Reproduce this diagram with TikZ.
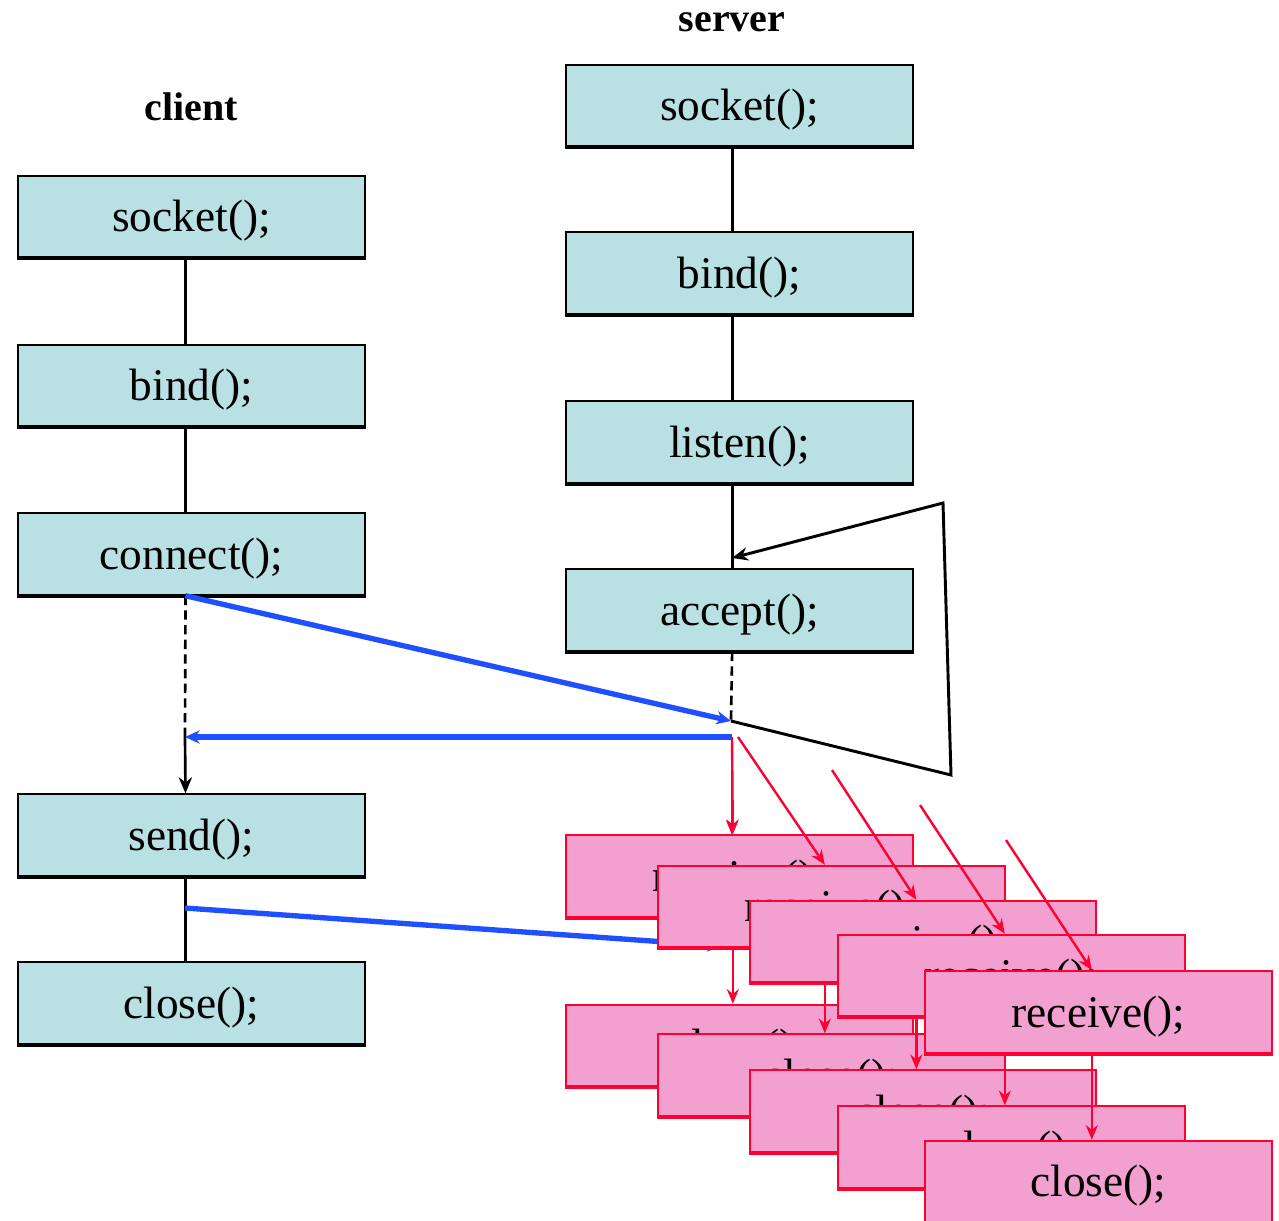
\documentclass[tikz,border=0pt]{standalone}
\usepackage{fontspec}
\setmainfont{Liberation Serif}
\usetikzlibrary{arrows.meta}

\definecolor{callfill}{RGB}{185,224,227}
\definecolor{childfill}{RGB}{242,160,208}
\definecolor{childline}{RGB}{255,0,51}
\definecolor{msgblue}{RGB}{30,80,255}

\begin{document}
\begin{tikzpicture}[x=0.75pt,y=0.75pt,yscale=-1,xscale=1,
    box/.style={line width=1.6pt, minimum width=260pt, minimum height=61pt, inner sep=0pt,
        text height=26pt, text depth=3pt, font=\fontsize{34}{40}\selectfont},
    call/.style={box, draw=black, fill=callfill,
        append after command={(\tikzlastnode.south west) edge [line width=3pt, draw=black] (\tikzlastnode.south east)}},
    child/.style={box, draw=childline, fill=childfill,
        append after command={(\tikzlastnode.south west) edge [line width=3pt, draw=childline] (\tikzlastnode.south east)}},
    title/.style={font=\bfseries\fontsize{30}{36}\selectfont},
    flow/.style={line width=2pt},
    msg/.style={draw=msgblue, line width=4pt, -{Stealth[length=11pt,width=10pt]}},
    fork/.style={draw=childline, line width=1.8pt, -{Stealth[length=11pt,width=9pt]}}]

    \useasboundingbox (0,0) rectangle (1279,1221);

    % Titles
    \draw (191,107) node [title] (client) {client};
    \draw (732,22) node [title] (server) {server};

    % Client side
    \draw (191.5,216.5) node [call] (csocket) {socket();};
    \draw (191.5,385.5) node [call] (cbind) {bind();};
    \draw (191.5,554) node [call] (cconnect) {connect();};
    \draw (191.5,835) node [call] (csend) {send();};
    \draw (191.5,1003) node [call] (cclose) {close();};

    % Server side
    \draw (739.5,105.5) node [call] (ssocket) {socket();};
    \draw (739.5,273) node [call] (sbind) {bind();};
    \draw (739.5,442) node [call] (slisten) {listen();};
    \draw (739.5,610) node [call] (saccept) {accept();};

    % Points on the lines
    \coordinate (cwait) at (185,737);
    \coordinate (csendpt) at (185,908);
    \coordinate (ajoin) at (731,721);
    \coordinate (afork) at (732,737);
    \coordinate (aloop) at (732,558);
    \coordinate (rin) at (722,946);

    % Client flow
    \draw [flow] ([xshift=-4.5pt]csocket.south) -- ([xshift=-4.5pt]cbind.north);
    \draw [flow] ([xshift=-4.5pt]cbind.south) -- ([xshift=-4.5pt]cconnect.north);
    \draw [flow, dash pattern=on 7pt off 4pt] ([xshift=-4.5pt]cconnect.south) -- (cwait);
    \draw [flow, -{Stealth[length=12pt,width=10pt]}] (cwait) -- ([xshift=-4.5pt]csend.north);
    \draw [flow] ([xshift=-4.5pt]csend.south) -- ([xshift=-4.5pt]cclose.north);

    % Server flow
    \draw [flow] ([xshift=-5.5pt]ssocket.south) -- ([xshift=-5.5pt]sbind.north);
    \draw [flow] ([xshift=-5.5pt]sbind.south) -- ([xshift=-5.5pt]slisten.north);
    \draw [flow] ([xshift=-5.5pt]slisten.south) -- ([xshift=-5.5pt]saccept.north);
    \draw [flow, dash pattern=on 7pt off 4pt] ([xshift=-5.5pt]saccept.south) -- (ajoin);
    \draw [line width=2.2pt, -{Stealth[length=12pt,width=10pt]}] (ajoin) -- (951,775) -- (943,503) -- (aloop);

    % Messages
    \draw [fork] (afork) -- (732,835);
    \draw [msg] ([xshift=-4.5pt]cconnect.south) -- (ajoin);
    \draw [msg] (afork) -- (cwait);
    \draw [msg] (csendpt) -- (rin);

    % Child processes
    \foreach \i/\x/\ry/\cy/\fx/\fy in {1/739.5/876/1045.5/732/737, 2/831.5/906.5/1075/738/737, 3/923/941.5/1111/832/770, 4/1011.5/975.5/1147/920/805, 5/1098.5/1012/1181.5/1006/840} {
        \coordinate (fork\i) at (\fx,\fy);
        \draw (\x,\ry) node [child] (rec\i) {receive();};
        \draw [fork] (fork\i) -- ([xshift=-5pt]rec\i.north);
        \draw (\x,\cy) node [child] (cls\i) {close();};
        \draw [fork] ([xshift=-5pt]rec\i.south) -- ([xshift=-5pt]cls\i.north);
    }

\end{tikzpicture}
\end{document}
